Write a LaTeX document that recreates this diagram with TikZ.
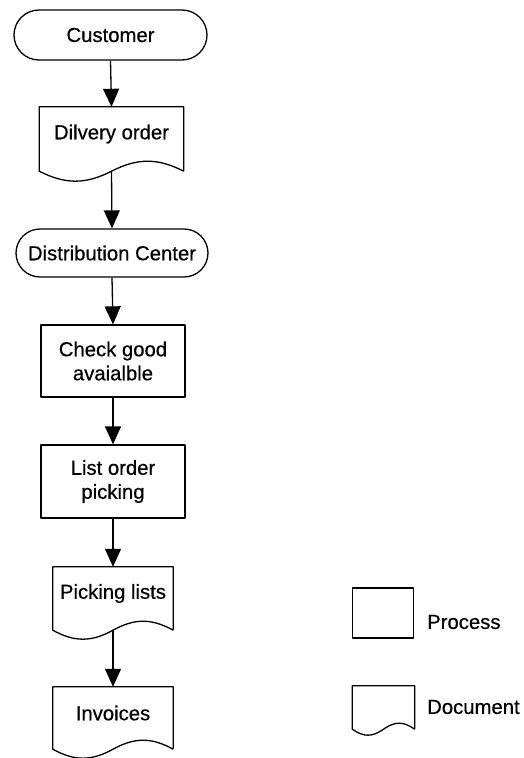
\documentclass[tikz,border=0pt]{standalone}
\usepackage{fontspec}
\setmainfont{Liberation Sans}
\newfontfamily\labelfont{Liberation Sans}[FakeBold=0.5]
\usetikzlibrary{shapes.misc,arrows.meta,calc}

% lift the text of a document symbol above the wavy bottom edge
\newcommand\doctext[1]{\raisebox{5pt}[\height][\depth]{#1}}

% outline of a document symbol: straight top and sides, one sine period along the bottom
\newcommand\docoutline[2]{%
  \draw[outline] (#1.south east) -- (#1.north east) -- (#1.north west) -- (#1.south west)
    .. controls ($(#1.south west)!0.18!(#1.south east)+(0,1.33*#2)$)
            and ($(#1.south west)!0.32!(#1.south east)+(0,1.33*#2)$)
    .. ($(#1.south west)!0.5!(#1.south east)$)
    .. controls ($(#1.south west)!0.68!(#1.south east)+(0,-1.33*#2)$)
            and ($(#1.south west)!0.82!(#1.south east)+(0,-1.33*#2)$)
    .. (#1.south east);}

\begin{document}
\begin{tikzpicture}[x=1pt,y=-1pt,
  outline/.style={line width=1.3pt, line join=round},
  txt/.style={font=\labelfont\fontsize{20.3}{24}\selectfont, align=center, inner sep=0pt},
  terminal/.style={txt, rounded rectangle, draw, outline},
  procbox/.style={txt, rectangle, draw, outline},
  docnode/.style={txt, rectangle, draw=none},
  flow/.style={-{Triangle[length=18pt,width=16pt]}, line width=1.3pt},
  legendtext/.style={txt, anchor=west}]
\useasboundingbox (0,0) rectangle (523,758);

% main flow
\node[terminal, minimum width=193pt, minimum height=50pt] (customer) at (110.5,35) {Customer};
\node[docnode, minimum width=144pt, minimum height=64pt] (dilvery) at (111.5,139) {\doctext{Dilvery order}};
\node[terminal, minimum width=192pt, minimum height=48pt] (dc) at (112,253) {Distribution Center};
\node[procbox, minimum width=144pt, minimum height=72pt] (check) at (113,361) {Check good\\avaialble};
\node[procbox, minimum width=144pt, minimum height=73pt] (listorder) at (113,481.5) {List order\\picking};
\node[docnode, minimum width=120pt, minimum height=63pt] (picking) at (113,598.5) {\doctext{Picking lists}};
\node[docnode, minimum width=120pt, minimum height=62pt] (invoices) at (113,718) {\doctext{Invoices}};

\docoutline{dilvery}{10}
\docoutline{picking}{9}
\docoutline{invoices}{9}

\draw[flow] (customer.south) -- (dilvery.north);
\draw[flow] (dilvery.south) -- (dc.north);
\draw[flow] (dc.south) -- (check.north);
\draw[flow] (check.south) -- (listorder.north);
\draw[flow] (listorder.south) -- (picking.north);
\draw[flow] (picking.south) -- (invoices.north);

% legend
\node[procbox, minimum width=61pt, minimum height=50pt] (legproc) at (383,613) {};
\node[docnode, minimum width=62pt, minimum height=43pt] (legdoc) at (383.5,707.5) {};
\docoutline{legdoc}{6}
\node[legendtext] (legproctext) at (427,622) {Process};
\node[legendtext] (legdoctext) at (427,707) {Document};
\end{tikzpicture}
\end{document}
